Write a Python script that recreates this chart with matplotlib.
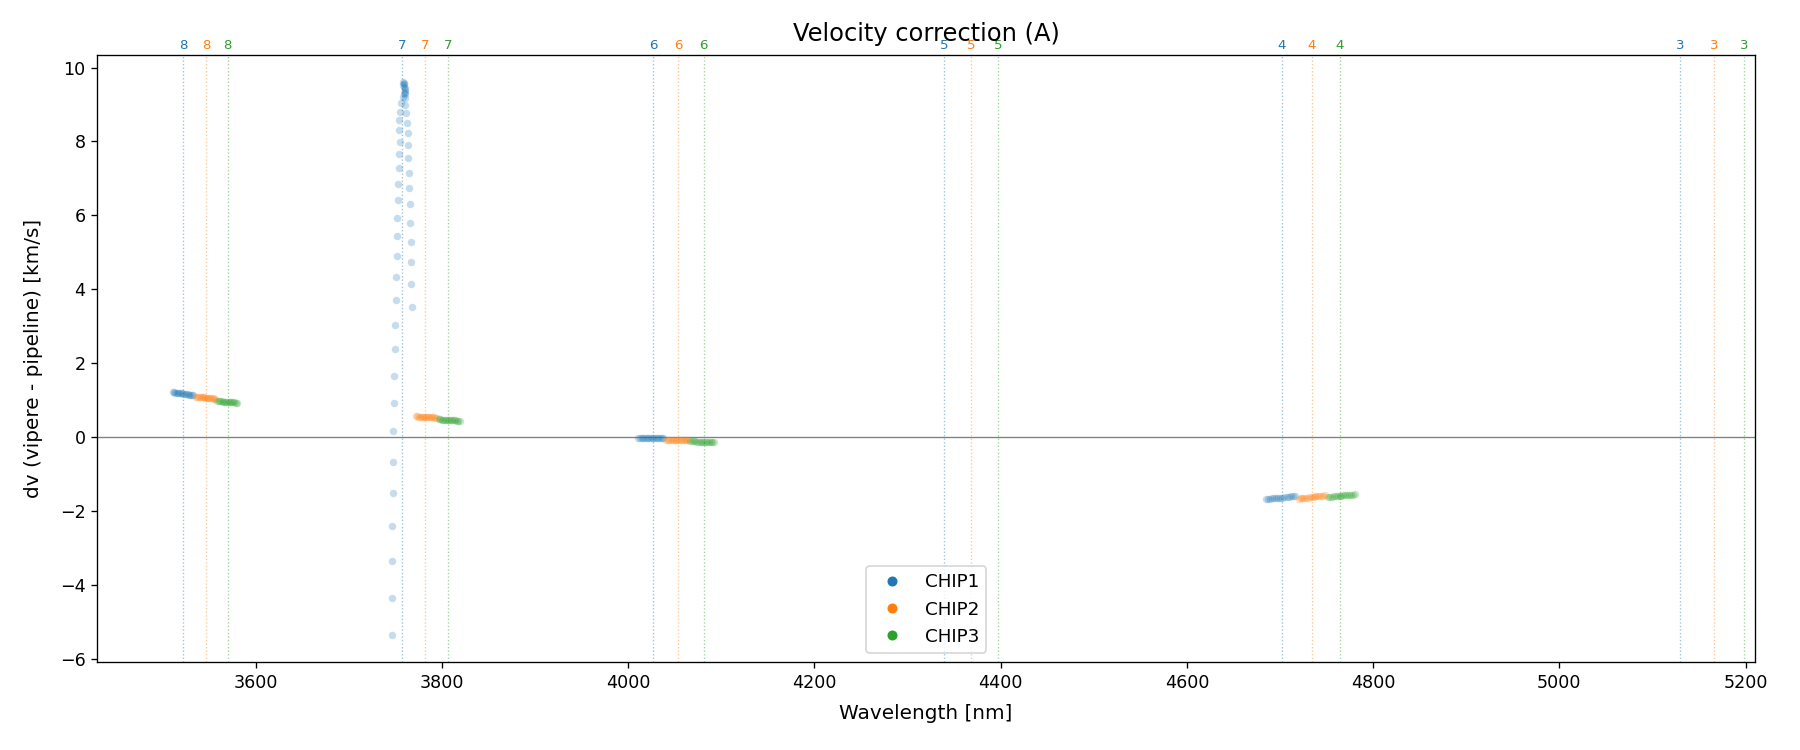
import matplotlib
matplotlib.use("Agg")
import matplotlib.pyplot as plt
from matplotlib.lines import Line2D

chips = ["CHIP1", "CHIP2", "CHIP3"]
colors = ["tab:blue", "tab:orange", "tab:green"]

# order labels and line positions (order centres per chip)
orders = [8, 7, 6, 5, 4, 3]
order_wl_chip1 = [3522, 3757, 4027, 4339, 4702, 5130]
order_wl_chip2 = [3547, 3782, 4054, 4368, 4734, 5166]
order_wl_chip3 = [3570, 3807, 4081, 4397, 4764, 5198]

# CHIP1: order 8, order 7 (spike), order 6, order 4
wl_chip1 = [3511, 3512.4, 3514, 3515.3, 3516.8, 3518.2, 3519.7, 3521.1, 3522.6, 3524, 3525.5, 3527, 3528.4, 3529.9, 3531.3, 3532.8,
            3758.5, 3759, 3759.5, 3758.8, 3759.6, 3760, 3760.5, 3759.2, 3758.2, 3760.8,
            3756, 3755.5, 3754.5, 3754.5, 3755, 3754, 3754, 3753, 3753, 3752, 3752, 3752, 3751, 3751, 3750, 3750,
            3749, 3749, 3748, 3748, 3748, 3747, 3747, 3746, 3746,
            3760, 3761, 3761, 3762, 3762.4, 3763.6, 3763.3, 3763.3, 3765, 3765, 3766, 3766, 3767, 3767, 3767, 3768,
            4011, 4012.8, 4014.6, 4016.4, 4018.2, 4020, 4021.8, 4023.6, 4025.4, 4027.2, 4029, 4030.8, 4032.6, 4034.4, 4036.2, 4038,
            4685, 4687.2, 4689.4, 4691.6, 4693.8, 4696, 4698.2, 4700.4, 4702.6, 4704.8, 4707, 4709.2, 4711.4, 4713.6, 4715.8]
dv_chip1 = [1.21, 1.21, 1.20, 1.20, 1.19, 1.19, 1.18, 1.18, 1.17, 1.17, 1.16, 1.16, 1.15, 1.15, 1.14, 1.14,
            9.60, 9.58, 9.55, 9.52, 9.48, 9.44, 9.38, 9.30, 9.20, 9.28,
            9.04, 8.81, 8.57, 8.31, 7.99, 7.65, 7.29, 6.84, 6.41, 5.93, 5.43, 4.89, 4.33, 3.71, 3.03, 2.38,
            1.66, 0.91, 0.16, -0.69, -1.52, -2.40, -3.36, -4.35, -5.35,
            9.35, 9.17, 8.98, 8.77, 8.49, 8.22, 7.90, 7.56, 7.15, 6.74, 6.30, 5.80, 5.29, 4.73, 4.14, 3.53,
            -0.02, -0.02, -0.02, -0.02, -0.03, -0.03, -0.03, -0.03, -0.03, -0.03, -0.03, -0.04, -0.04, -0.04, -0.04, -0.04,
            -1.68, -1.67, -1.67, -1.66, -1.66, -1.65, -1.65, -1.64, -1.64, -1.63, -1.63, -1.62, -1.61, -1.61, -1.60]

# CHIP2: order 8, 7, 6, 4
wl_chip2 = [3536, 3537.5, 3539, 3540.5, 3542, 3543.5, 3545, 3546.5, 3548, 3549.5, 3551, 3552.5, 3554, 3555.5, 3557,
            3772, 3773.6, 3775.2, 3776.8, 3778.4, 3780, 3781.6, 3783.2, 3784.8, 3786.4, 3788, 3789.6, 3791.2, 3792.8, 3794.4,
            4041, 4042.7, 4044.4, 4046.1, 4047.8, 4049.5, 4051.2, 4052.9, 4054.6, 4056.3, 4058, 4059.7, 4061.4, 4063.1, 4064.8,
            4720, 4722, 4724, 4726, 4728, 4730, 4732, 4734, 4736, 4738, 4740, 4742, 4744, 4746, 4748.5]
dv_chip2 = [1.09, 1.09, 1.08, 1.08, 1.07, 1.07, 1.07, 1.06, 1.06, 1.06, 1.05, 1.05, 1.05, 1.04, 1.04,
            0.56, 0.56, 0.55, 0.55, 0.55, 0.54, 0.54, 0.54, 0.54, 0.53, 0.53, 0.53, 0.53, 0.52, 0.52,
            -0.07, -0.07, -0.07, -0.07, -0.08, -0.08, -0.08, -0.08, -0.08, -0.08, -0.09, -0.09, -0.09, -0.09, -0.09,
            -1.67, -1.66, -1.66, -1.65, -1.64, -1.64, -1.63, -1.63, -1.62, -1.61, -1.61, -1.60, -1.59, -1.59, -1.58]

# CHIP3: order 8, 7, 6, 4
wl_chip3 = [3559, 3560.5, 3562, 3563.5, 3565, 3566.5, 3568, 3569.5, 3571, 3572.5, 3574, 3575.5, 3577, 3578.5, 3580,
            3797, 3798.6, 3800.2, 3801.8, 3803.4, 3805, 3806.6, 3808.2, 3809.8, 3811.4, 3813, 3814.6, 3816.2, 3817.8, 3819.4,
            4067, 4068.8, 4070.6, 4072.4, 4074.2, 4076, 4077.8, 4079.6, 4081.4, 4083.2, 4085, 4086.8, 4088.6, 4090.4, 4092.2,
            4752, 4754, 4756, 4758, 4760, 4762, 4764, 4766, 4768, 4770, 4772, 4774, 4776, 4778, 4780]
dv_chip3 = [0.98, 0.98, 0.97, 0.97, 0.96, 0.96, 0.96, 0.95, 0.95, 0.95, 0.94, 0.94, 0.94, 0.93, 0.93,
            0.48, 0.48, 0.47, 0.47, 0.47, 0.46, 0.46, 0.46, 0.45, 0.45, 0.45, 0.45, 0.44, 0.44, 0.44,
            -0.12, -0.12, -0.12, -0.12, -0.13, -0.13, -0.13, -0.13, -0.13, -0.13, -0.14, -0.14, -0.14, -0.14, -0.14,
            -1.63, -1.62, -1.62, -1.61, -1.61, -1.60, -1.59, -1.59, -1.58, -1.58, -1.57, -1.57, -1.56, -1.56, -1.55]

wls = [wl_chip1, wl_chip2, wl_chip3]
dvs = [dv_chip1, dv_chip2, dv_chip3]
order_wls = [order_wl_chip1, order_wl_chip2, order_wl_chip3]

fig, ax = plt.subplots(figsize=(15, 6.25), dpi=120)

ax.axhline(0, color="gray", lw=0.8)

for wl, dv, col in zip(wls, dvs, colors):
    ax.plot(wl, dv, "o", color=col, alpha=0.25, ms=4.5, mew=0)

# order markers
for owl, col in zip(order_wls, colors):
    for o, x in zip(orders, owl):
        ax.axvline(x, color=col, ls=":", lw=0.8, alpha=0.45)
        ax.text(x, 1.005, str(o), color=col, fontsize=8, ha="center", va="bottom",
                transform=ax.get_xaxis_transform())

ax.set_xlim(3430, 5210)
ax.set_xlabel("Wavelength [nm]", fontsize=12, labelpad=7)
ax.set_ylabel("dv (vipere - pipeline) [km/s]", fontsize=12, labelpad=10)
ax.set_title("Velocity correction (A)", fontsize=14.5, pad=8)
ax.tick_params(labelsize=10.5)

handles = [Line2D([], [], marker="o", ls="", color=c, ms=5) for c in colors]
ax.legend(handles, chips, loc="lower center", fontsize=11)

plt.subplots_adjust(left=0.054, right=0.975, top=0.927, bottom=0.117)
plt.savefig("out.png")
